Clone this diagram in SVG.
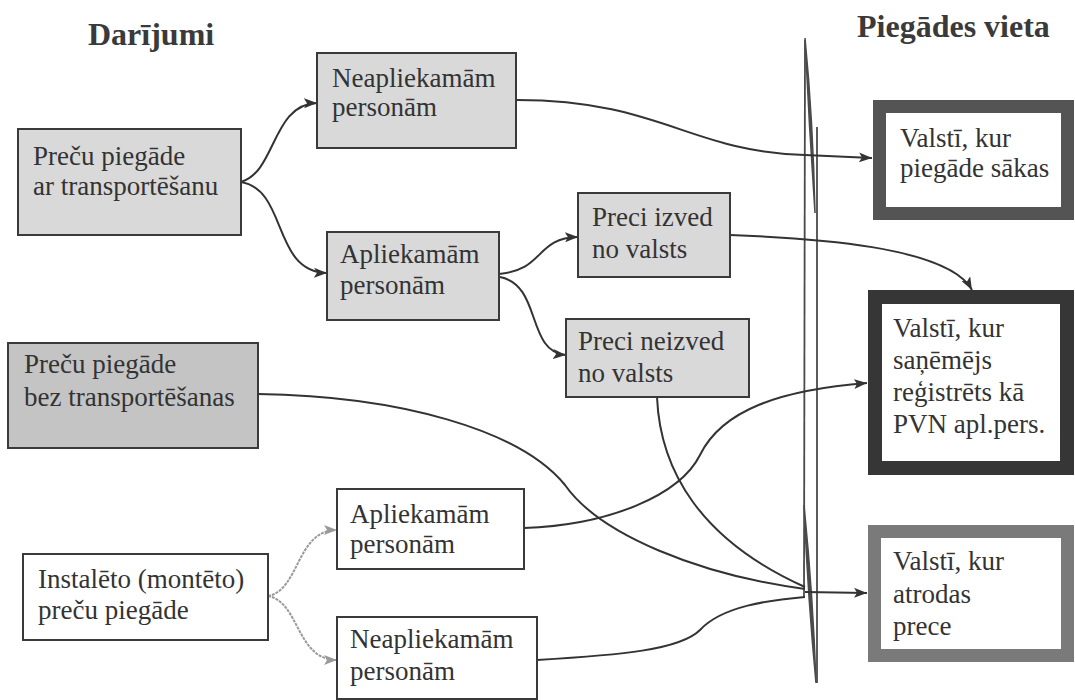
<svg xmlns="http://www.w3.org/2000/svg" width="1075" height="700" viewBox="0 0 1075 700">
  <style>
    .t { font-family: "Liberation Serif", "Times New Roman", serif; font-size: 27px; fill: #333; }
    .title { font-weight: bold; font-size: 32px; fill: #3a3a3a; }
    .box { stroke: #3a3a3a; stroke-width: 2; }
    .gray { fill: #d9d9d9; }
    .dark { fill: #c4c4c4; }
    .white { fill: #ffffff; }
    .place { fill: #ffffff; }
    .conn { fill: none; stroke: #333; stroke-width: 2; }
    .conn.light { stroke: #9a9a9a; stroke-dasharray: 3 1; }
    .divider { fill: none; stroke: #4a4a4a; stroke-width: 1.8; }
  </style>
  <defs>
    <marker id="arrow" markerUnits="userSpaceOnUse" markerWidth="14" markerHeight="10" refX="13" refY="5" orient="auto">
      <path d="M0,0 L13,5 L0,10 L3,5 z" fill="#333"/>
    </marker>
    <marker id="arrow-light" markerUnits="userSpaceOnUse" markerWidth="14" markerHeight="10" refX="13" refY="5" orient="auto">
      <path d="M0,0 L13,5 L0,10 L3,5 z" fill="#9a9a9a"/>
    </marker>
  </defs>

  <rect width="1075" height="700" fill="#ffffff"/>

  <!-- column headings -->
  <text class="t title" x="88" y="45">Darījumi</text>
  <text class="t title" x="857" y="37">Piegādes vieta</text>

  <!-- border between countries -->
  <g id="divider">
    <path class="divider" d="M805,40 L804,597"/>
    <path class="divider" d="M817,127 L817,683"/>
    <path d="M805,38 Q813,120 815,213 Q809,125 805,38 z" fill="#4a4a4a" stroke="#4a4a4a" stroke-width="1.5"/>
    <path d="M804,505 Q813,595 816,683 Q808,600 804,505 z" fill="#4a4a4a" stroke="#4a4a4a" stroke-width="1.5"/>
  </g>

  <!-- connectors -->
  <g id="connectors">
    <path class="conn" d="M241,182 C276,172 272,104 317,103" marker-end="url(#arrow)"/>
    <path class="conn" d="M241,182 C288,190 272,272 327,273" marker-end="url(#arrow)"/>
    <path class="conn" d="M499,274 C545,270 535,238 578,237" marker-end="url(#arrow)"/>
    <path class="conn" d="M500,277 C542,285 526,352 566,355" marker-end="url(#arrow)"/>
    <path class="conn" d="M517,100 C660,100 690,152 805,155 L872,158" marker-end="url(#arrow)"/>
    <path class="conn" d="M730,235 C810,238 948,246 972,290" marker-end="url(#arrow)"/>
    <path class="conn" d="M258,394 C400,396 520,430 565,485 C600,535 700,575 805,589"/>
    <path class="conn" d="M657,397 C660,470 700,540 805,587"/>
    <path class="conn" d="M524,528 C610,525 680,495 700,455 C722,410 780,390 867,383" marker-end="url(#arrow)"/>
    <path class="conn" d="M537,660 C620,655 680,650 700,630 C722,606 770,600 805,597"/>
    <path class="conn" d="M805,592 L867,593" marker-end="url(#arrow)"/>
    <path class="conn light" d="M268,596 C300,590 296,530 337,530" marker-end="url(#arrow-light)"/>
    <path class="conn light" d="M268,596 C300,602 296,660 337,660" marker-end="url(#arrow-light)"/>
  </g>

  <!-- transactions -->
  <g id="n-transport">
    <rect class="box gray" x="18" y="129" width="223" height="106"/>
    <text class="t" x="33" y="165">Preču piegāde</text>
    <text class="t" x="33" y="195">ar transportēšanu</text>
  </g>
  <g id="n-neapl-top">
    <rect class="box gray" x="317" y="53" width="199" height="95"/>
    <text class="t" x="332" y="87">Neapliekamām</text>
    <text class="t" x="332" y="116">personām</text>
  </g>
  <g id="n-apl-top">
    <rect class="box gray" x="327" y="232" width="172" height="88"/>
    <text class="t" x="340" y="263">Apliekamām</text>
    <text class="t" x="340" y="294">personām</text>
  </g>
  <g id="n-izved">
    <rect class="box gray" x="578" y="193" width="152" height="84"/>
    <text class="t" x="592" y="226">Preci izved</text>
    <text class="t" x="592" y="258">no valsts</text>
  </g>
  <g id="n-neizved">
    <rect class="box gray" x="566" y="319" width="183" height="78"/>
    <text class="t" x="578" y="350">Preci neizved</text>
    <text class="t" x="578" y="382">no valsts</text>
  </g>
  <g id="n-bez">
    <rect class="box dark" x="8" y="343" width="250" height="105"/>
    <text class="t" x="24" y="373">Preču piegāde</text>
    <text class="t" x="24" y="406">bez transportēšanas</text>
  </g>
  <g id="n-install">
    <rect class="box white" x="23" y="554" width="245" height="86"/>
    <text class="t" x="38" y="588">Instalēto (montēto)</text>
    <text class="t" x="38" y="619">preču piegāde</text>
  </g>
  <g id="n-apl-bottom">
    <rect class="box white" x="337" y="489" width="187" height="80"/>
    <text class="t" x="350" y="523">Apliekamām</text>
    <text class="t" x="350" y="553">personām</text>
  </g>
  <g id="n-neapl-bottom">
    <rect class="box white" x="337" y="617" width="200" height="82"/>
    <text class="t" x="350" y="648">Neapliekamām</text>
    <text class="t" x="350" y="680">personām</text>
  </g>

  <!-- places of supply -->
  <g id="p-start">
    <rect class="place" x="879.5" y="106.5" width="188" height="107" stroke="#545454" stroke-width="13"/>
    <text class="t" x="900" y="147">Valstī, kur</text>
    <text class="t" x="900" y="177">piegāde sākas</text>
  </g>
  <g id="p-registered">
    <rect class="place" x="875" y="297" width="192" height="171" stroke="#363636" stroke-width="14"/>
    <text class="t" x="893" y="337">Valstī, kur</text>
    <text class="t" x="893" y="369">saņēmējs</text>
    <text class="t" x="893" y="401">reģistrēts kā</text>
    <text class="t" x="893" y="433">PVN apl.pers.</text>
  </g>
  <g id="p-location">
    <rect class="place" x="874.5" y="531.5" width="193" height="124" stroke="#7a7a7a" stroke-width="13"/>
    <text class="t" x="893" y="570">Valstī, kur</text>
    <text class="t" x="893" y="603">atrodas</text>
    <text class="t" x="893" y="635">prece</text>
  </g>
</svg>
